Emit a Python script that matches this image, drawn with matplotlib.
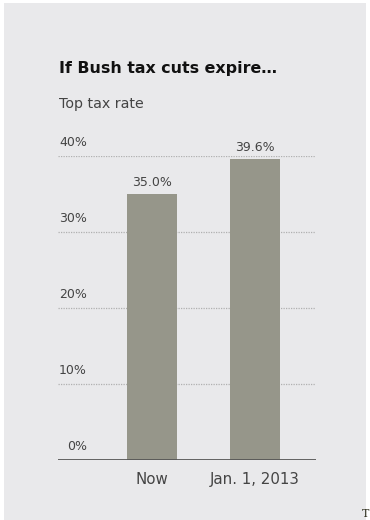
import matplotlib
matplotlib.use('Agg')
from matplotlib import pyplot as plt
from matplotlib.patches import Rectangle
from matplotlib import transforms

categories = ['Now', 'Jan. 1, 2013']
rates = [35.0, 39.6]
value_labels = ['35.0%', '39.6%']
y_ticks = [0, 10, 20, 30, 40]
y_tick_labels = ['0%', '10%', '20%', '30%', '40%']

title = 'If Bush tax cuts expire…'
subtitle = 'Top tax rate'

plt.rcParams['font.family'] = ['DejaVu Sans']

panel_color = '#e9e9eb'
bar_color = '#96968a'
text_color = '#444444'

fig = plt.figure(figsize=(3.7, 5.2), dpi=100)
fig.patch.set_facecolor('white')

# grey card behind everything
fig.patches.append(Rectangle((4 / 370, 0), 362 / 370, 517 / 520, transform=fig.transFigure,
                             facecolor=panel_color, edgecolor='none', zorder=-10))

ax = fig.add_axes([58 / 370, 60 / 520, 258 / 370, 304 / 520])
ax.set_facecolor('none')

x = list(range(len(categories)))
ax.bar(x, rates, width=0.485, color=bar_color, zorder=2)
ax.set_xlim(-0.913, 1.592)
ax.set_ylim(0, 40)

# dotted gridlines, solid baseline
for t in y_ticks[1:]:
    ax.axhline(t, color='#b0b0b0', lw=0.9, ls=(0, (1, 1)), zorder=1)
ax.axhline(0, color='#555555', lw=2, zorder=3)

for s in ax.spines.values():
    s.set_visible(False)
ax.set_yticks([])
ax.set_xticks(x)
ax.set_xticklabels(categories, fontsize=10.8, color=text_color)
ax.tick_params(axis='x', length=0, pad=8.5)

# y labels sit right-aligned above each gridline
trans = transforms.blended_transform_factory(ax.transAxes, ax.transData)
for t, lab in zip(y_ticks, y_tick_labels):
    ax.annotate(lab, (0.112, t), xycoords=trans, xytext=(0, 5), textcoords='offset points',
                ha='right', va='bottom', fontsize=9, color=text_color)

# values on top of the bars
for xi, r, lab in zip(x, rates, value_labels):
    ax.annotate(lab, (xi, r), xytext=(0, 3.5), textcoords='offset points',
                ha='center', va='bottom', fontsize=9, color=text_color)

fig.text(59 / 370, 1 - 73 / 520, title, fontsize=11.4, fontweight='bold', color='#111111',
         ha='left', va='baseline')
fig.text(59 / 370, 1 - 108 / 520, subtitle, fontsize=10.3, color=text_color,
         ha='left', va='baseline')

# little mark in the corner
fig.text(362 / 370, 1 / 520, 'T', fontsize=8, family='DejaVu Serif', color='#333322',
         ha='left', va='bottom')

fig.savefig('out.png', dpi=100, facecolor=fig.get_facecolor())
